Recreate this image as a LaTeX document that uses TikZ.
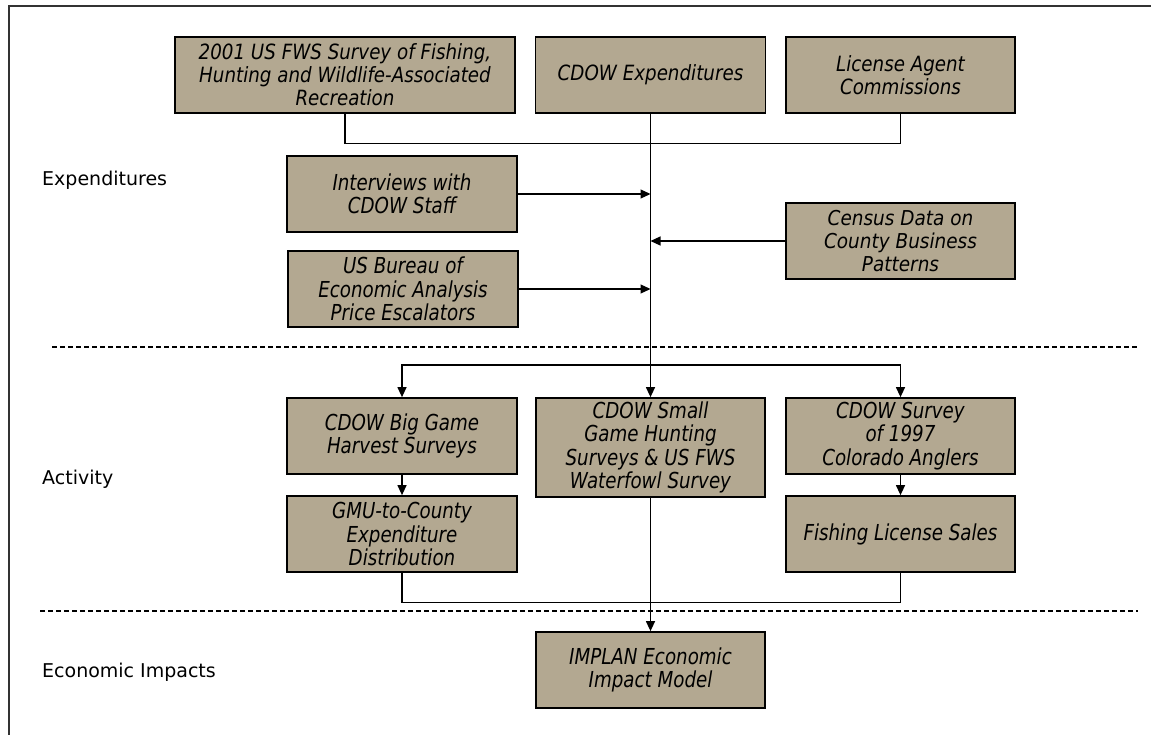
\documentclass[tikz,border=0pt]{standalone}
\usepackage{fontspec}
\setmainfont{DejaVu Sans}
\newfontfamily\boxfont[FakeStretch=0.87]{DejaVu Sans}
\newfontfamily\narrowfont[FakeStretch=0.83]{DejaVu Sans}
\newfontfamily\widefont[FakeStretch=0.9]{DejaVu Sans}
\usetikzlibrary{arrows.meta}
\definecolor{tanfill}{RGB}{179,168,145}
\begin{document}
\begin{tikzpicture}[x=1pt,y=-1pt,
  srcbox/.style={draw=black, line width=1.7pt, fill=tanfill, inner sep=0pt, align=center,
    font=\boxfont\itshape\fontsize{21}{23}\selectfont},
  narrowbox/.style={srcbox, font=\narrowfont\itshape\fontsize{22}{23.5}\selectfont},
  widebox/.style={srcbox, font=\widefont\itshape\fontsize{20.5}{23}\selectfont},
  conn/.style={line width=1.2pt, draw=black},
  arr/.style={conn, -{Triangle[length=10pt,width=9pt]}},
  sep/.style={line width=1.1pt, dash pattern=on 5pt off 3pt},
  lbl/.style={anchor=west, inner sep=0pt, font=\fontsize{19}{22}\selectfont}]
\useasboundingbox (0,0) rectangle (1151,735);
% frame
\draw[line width=1.5pt, draw=black!80] (9,735) -- (9,6) -- (1151,6);
% separators
\draw[sep] (52,347) -- (1138,347);
\draw[sep] (40,611) -- (1138,611);
% labels
\node[lbl] (lexp) at (42,180) {Expenditures};
\node[lbl] (lact) at (42,479) {Activity};
\node[lbl] (limp) at (42,672) {Economic Impacts};
% boxes
\node[srcbox, minimum width=340pt, minimum height=76pt] (fws) at (345,75)
  {2001 US FWS Survey of Fishing,\\Hunting and Wildlife-Associated\\Recreation};
\node[srcbox, minimum width=230pt, minimum height=76pt] (cdowexp) at (650.5,75) {CDOW Expenditures};
\node[srcbox, minimum width=229pt, minimum height=76pt] (lac) at (900.5,75) {License Agent\\Commissions};
\node[narrowbox, minimum width=230pt, minimum height=76pt] (interviews) at (402,194) {Interviews with\\CDOW Staff};
\node[widebox, minimum width=229pt, minimum height=76pt] (census) at (900.5,241) {Census Data on\\County Business\\Patterns};
\node[narrowbox, minimum width=230pt, minimum height=76pt] (bureau) at (403,289) {US Bureau of\\Economic Analysis\\Price Escalators};
\node[narrowbox, minimum width=230pt, minimum height=76pt] (biggame) at (402,436) {CDOW Big Game\\Harvest Surveys};
\node[narrowbox, minimum width=229pt, minimum height=99pt] (smallgame) at (650.5,447.5) {CDOW Small\\Game Hunting\\Surveys \& US FWS\\Waterfowl Survey};
\node[narrowbox, minimum width=229pt, minimum height=76pt] (cdowsurvey) at (900.5,436) {CDOW Survey\\of 1997\\Colorado Anglers};
\node[narrowbox, minimum width=230pt, minimum height=76pt] (gmu) at (402,534) {GMU-to-County\\Expenditure\\Distribution};
\node[narrowbox, minimum width=229pt, minimum height=76pt] (fishing) at (900.5,534) {Fishing License Sales};
\node[narrowbox, minimum width=229pt, minimum height=76pt] (implan) at (650.5,670) {IMPLAN Economic\\Impact Model};
% connectors
\draw[conn] (fws.south) -- ++(0,30) -| (lac.south);
\draw[arr] (cdowexp.south) -- (smallgame.north);
\draw[arr] (interviews.east) -- (interviews.east -| smallgame.north);
\draw[arr] (census.west) -- (census.west -| smallgame.north);
\draw[arr] (bureau.east) -- (bureau.east -| smallgame.north);
\coordinate (fork) at (650.5,365);
\draw[arr] (fork) -| (biggame.north);
\draw[arr] (fork) -| (cdowsurvey.north);
\draw[arr] (biggame.south) -- (gmu.north);
\draw[arr] (cdowsurvey.south) -- (fishing.north);
\draw[conn] (gmu.south) -- ++(0,30) -| (fishing.south);
\draw[arr] (smallgame.south) -- (implan.north);
\end{tikzpicture}
\end{document}
